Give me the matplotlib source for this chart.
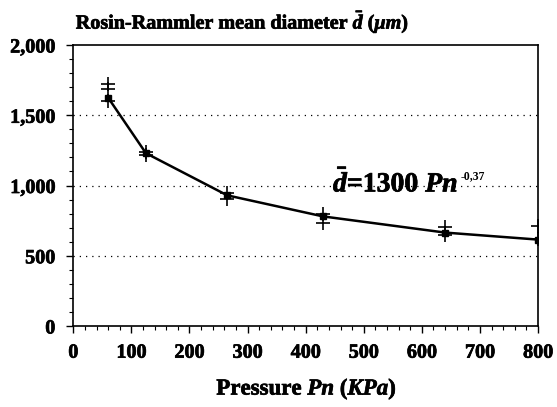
import matplotlib
matplotlib.use("Agg")
import matplotlib.pyplot as plt
import matplotlib.patheffects as pe
from matplotlib.ticker import MultipleLocator, FuncFormatter

# Data
pressure = [60, 125, 265, 430, 640, 800]
mean_d = [1625, 1230, 930, 780, 665, 615]
plus_x = [60, 60, 60, 125, 125, 265, 265, 430, 430, 640, 640, 800, 800]
plus_y = [1725, 1690, 1600, 1240, 1215, 945, 905, 795, 730, 705, 650, 715, 620]
x_ticks = [0, 100, 200, 300, 400, 500, 600, 700, 800]
y_ticks = [0, 500, 1000, 1500, 2000]

plt.rcParams['font.family'] = ['Liberation Serif']
plt.rcParams['font.weight'] = 'bold'
plt.rcParams['mathtext.fontset'] = 'custom'
plt.rcParams['mathtext.rm'] = 'Liberation Serif:bold'
plt.rcParams['mathtext.it'] = 'Liberation Serif:italic:bold'
plt.rcParams['mathtext.bf'] = 'Liberation Serif:bold'

heavy = [pe.withStroke(linewidth=0.5, foreground='black')]

fig = plt.figure(figsize=(5.57, 4.07), dpi=100)
ax = fig.add_axes([0.1316, 0.199, 0.966 - 0.1316, 0.8894 - 0.199])

for yv in [500, 1000, 1500]:
    ax.axhline(yv, color='black', linestyle=(0, (1, 4)), linewidth=0.9, zorder=0)

ax.plot(pressure, mean_d, color='black', linewidth=1.8, marker='s', markersize=5, zorder=3)
ax.plot(plus_x, plus_y, linestyle='none', marker='+', color='black', markersize=10,
        markeredgewidth=1.2, zorder=4)

ax.set_xlim(0, 800)
ax.set_ylim(0, 2000)
ax.set_xticks(x_ticks)
ax.set_yticks(y_ticks)
ax.xaxis.set_minor_locator(MultipleLocator(20))
ax.yaxis.set_minor_locator(MultipleLocator(100))
ax.yaxis.set_major_formatter(FuncFormatter(lambda v, p: f"{int(v):,}"))
ax.tick_params(axis='both', which='major', direction='out', length=5, width=1, labelsize=14.5)
ax.tick_params(axis='y', which='major', pad=8)
ax.tick_params(axis='x', which='major', pad=7)
ax.tick_params(axis='both', which='minor', direction='out', length=3, width=0.8)
for lab in ax.get_xticklabels() + ax.get_yticklabels():
    lab.set_fontweight('bold')
    lab.set_path_effects(heavy)
for s in ax.spines.values():
    s.set_linewidth(1.2)

main = ax.text(447, 956, r"$\bar{d}$=1300 $Pn$", fontsize=20, fontweight='bold',
               va='baseline', ha='left', zorder=5, path_effects=heavy)
ax.annotate("-0,37", xy=(1.0, 0.95), xycoords=main, xytext=(2, 0),
            textcoords='offset points', fontsize=8.5, fontweight='bold',
            ha='left', va='top', zorder=5)

fig.text(0.136, 0.946, r"Rosin-Rammler mean diameter $\bar{d}$ $(\mu m)$", ha='left',
         va='center', fontsize=14.5, fontweight='bold', path_effects=heavy)
fig.text(0.55, 0.045, r"Pressure $Pn$ $(KPa)$", ha='center', va='center',
         fontsize=16.5, fontweight='bold', path_effects=heavy)

fig.savefig("out.png", dpi=100)
